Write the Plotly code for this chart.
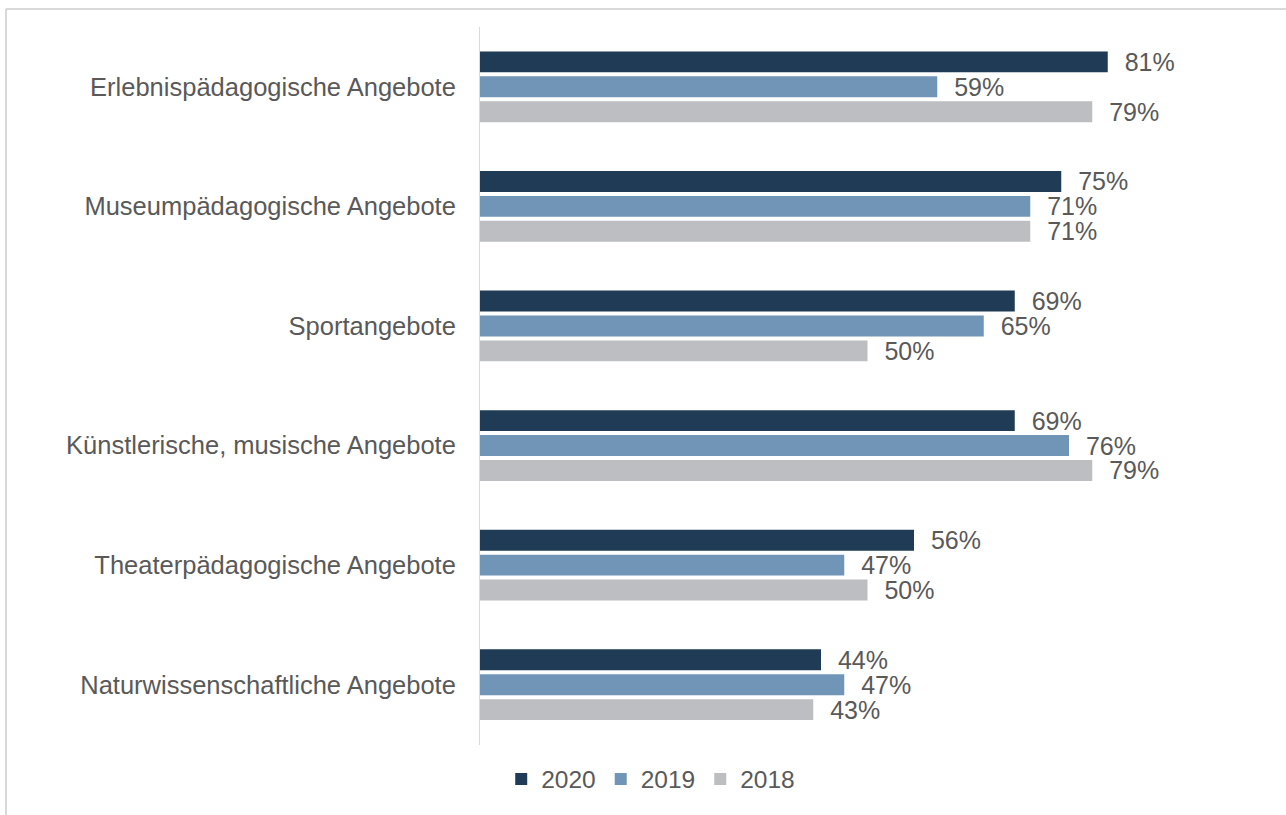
import plotly.graph_objects as go

categories = [
    "Erlebnispädagogische Angebote",
    "Museumpädagogische Angebote",
    "Sportangebote",
    "Künstlerische, musische Angebote",
    "Theaterpädagogische Angebote",
    "Naturwissenschaftliche Angebote",
]
series_names = ["2020", "2019", "2018"]
values_2020 = [81, 75, 69, 69, 56, 44]
values_2019 = [59, 71, 65, 76, 47, 47]
values_2018 = [79, 71, 50, 79, 50, 43]
colors = ["#1F3B55", "#7195B7", "#BDBEC1"]

W, H = 1286, 815
ML, MR, MT, MB = 480, 31, 27, 68
TXT = "#595959"
FONT = "Liberation Sans, Arial, sans-serif"

fig = go.Figure()
series = [values_2020, values_2019, values_2018]
for name, vals, col in zip(series_names, series, colors):
    fig.add_trace(go.Bar(
        y=categories, x=vals, name=name, orientation="h",
        marker=dict(color=col, line=dict(width=0)),
        text=[f"{v}%" for v in vals], textposition="outside",
        texttemplate="  %{text}", constraintext="none",
        textfont=dict(size=25, color=TXT, family=FONT),
        cliponaxis=False,
    ))

pw = W - ML - MR
ph = H - MT - MB
def px_x(p):
    return (p - ML) / pw
def px_y(p):
    return (H - MB - p) / ph

border = "#D9D9D9"
shapes = [
    dict(type="line", xref="paper", yref="paper", x0=px_x(6), x1=px_x(W + 5), y0=px_y(9), y1=px_y(9),
         line=dict(color=border, width=2)),
    dict(type="line", xref="paper", yref="paper", x0=px_x(6), x1=px_x(6), y0=px_y(9), y1=px_y(H + 5),
         line=dict(color=border, width=2)),
]

fig.update_layout(
    width=W, height=H,
    margin=dict(l=ML, r=MR, t=MT, b=MB),
    paper_bgcolor="white", plot_bgcolor="white",
    barmode="group", bargap=0.375, bargroupgap=0.16,
    font=dict(family=FONT, size=25.5, color=TXT),
    xaxis=dict(range=[0, 100], visible=False, showgrid=False, zeroline=False),
    yaxis=dict(autorange="reversed", showline=True, linecolor=border, linewidth=1,
               showgrid=False, zeroline=False, ticks="", ticklabelstandoff=18,
               tickfont=dict(size=25.5, color=TXT, family=FONT)),
    legend=dict(orientation="h", xref="container", yref="container",
                x=0.506, xanchor="center", y=1 - 779 / H, yanchor="middle",
                font=dict(size=24.5, color=TXT, family=FONT), traceorder="normal",
                itemwidth=30),
    shapes=shapes,
    showlegend=True,
)

fig.write_html("out.html")
